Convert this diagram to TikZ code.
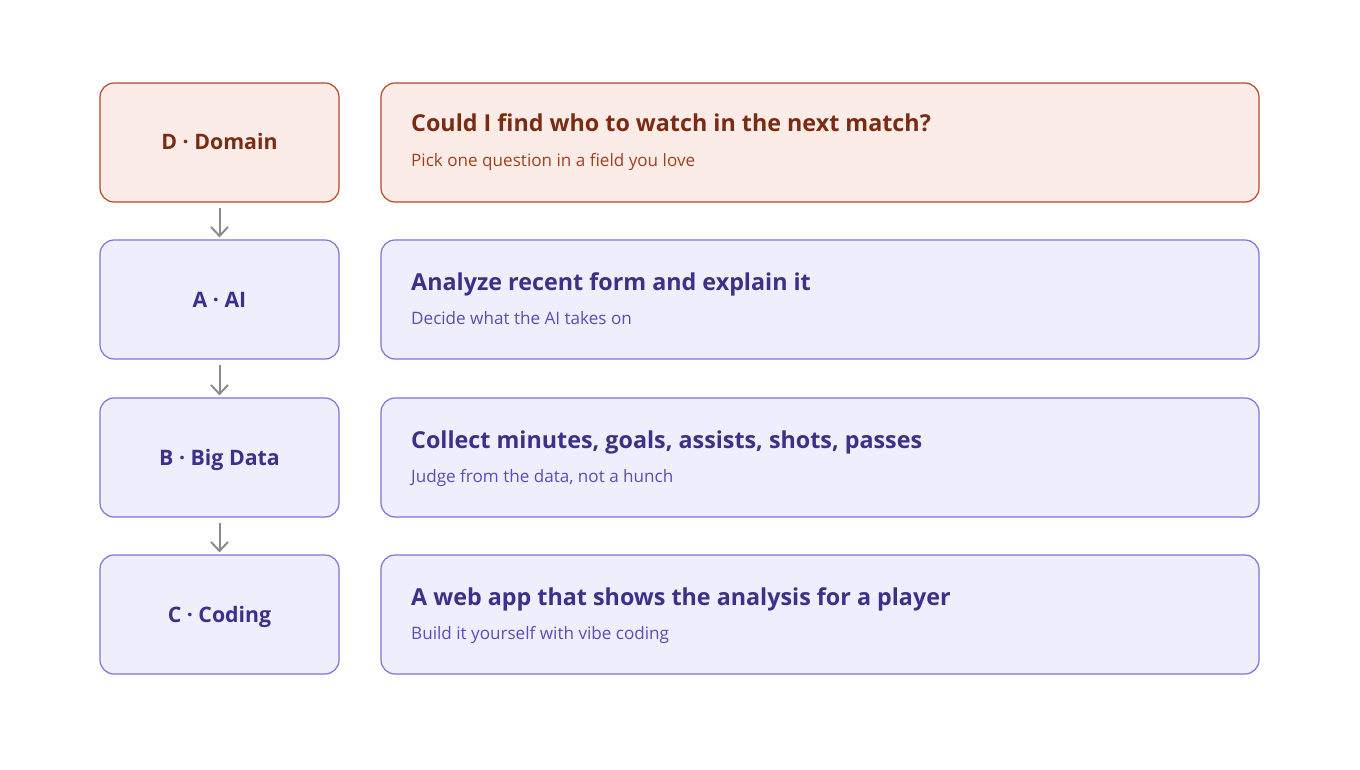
\documentclass[tikz,border=0pt]{standalone}
\usepackage{fontspec}
\setmainfont{Open Sans}
\usepackage{tikz}
\usetikzlibrary{arrows.meta}

\definecolor{domfill}{HTML}{FCECE7}
\definecolor{domline}{HTML}{B4472A}
\definecolor{domtext}{HTML}{7A2C13}
\definecolor{domsub}{HTML}{A2401E}
\definecolor{stepfill}{HTML}{EFEEFD}
\definecolor{stepline}{HTML}{7E72D4}
\definecolor{steptext}{HTML}{3C3088}
\definecolor{stepsub}{HTML}{5A4DB6}
\definecolor{arrowgray}{HTML}{8C8C8C}

\tikzset{
    letterbox/.style={draw, line width=1.2pt, rounded corners=14pt,
        minimum width=239pt, minimum height=119pt},
    textbox/.style={draw, line width=1.2pt, rounded corners=14pt,
        minimum width=878pt, minimum height=119pt},
    letterlabel/.style={anchor=base, font=\fontsize{21.3}{25}\selectfont\bfseries},
    titlelabel/.style={anchor=base west, inner sep=0pt, font=\fontsize{23.3}{28}\selectfont\bfseries},
    sublabel/.style={anchor=base west, inner sep=0pt, font=\fontsize{17.1}{21}\selectfont},
    flow/.style={draw=arrowgray, line width=2pt, -{Straight Barb[length=9pt, width=17pt, line width=2pt]}}
}

\begin{document}
\begin{tikzpicture}[x=1pt, y=-1pt]
    \useasboundingbox (0, 0) rectangle (1360, 770);

    % D - Domain
    \node[letterbox, fill=domfill, draw=domline] (d) at (219.5, 142.5) {};
    \node[letterlabel, text=domtext] (dl) at (219.5, 150) {D · Domain};
    \node[textbox, fill=domfill, draw=domline] (dq) at (820, 142.5) {};
    \node[titlelabel, text=domtext] (dqt) at (411, 132) {Could I find who to watch in the next match?};
    \node[sublabel, text=domsub] (dqs) at (411, 167) {Pick one question in a field you love};

    % A - AI
    \node[letterbox, fill=stepfill, draw=stepline] (a) at (219.5, 299.5) {};
    \node[letterlabel, text=steptext] (al) at (219.5, 307) {A · AI};
    \node[textbox, fill=stepfill, draw=stepline] (aq) at (820, 299.5) {};
    \node[titlelabel, text=steptext] (aqt) at (411, 290) {Analyze recent form and explain it};
    \node[sublabel, text=stepsub] (aqs) at (411, 324) {Decide what the AI takes on};

    % B - Big Data
    \node[letterbox, fill=stepfill, draw=stepline] (b) at (219.5, 457.5) {};
    \node[letterlabel, text=steptext] (bl) at (219.5, 465) {B · Big Data};
    \node[textbox, fill=stepfill, draw=stepline] (bq) at (820, 457.5) {};
    \node[titlelabel, text=steptext] (bqt) at (411, 448) {Collect minutes, goals, assists, shots, passes};
    \node[sublabel, text=stepsub] (bqs) at (411, 482) {Judge from the data, not a hunch};

    % C - Coding
    \node[letterbox, fill=stepfill, draw=stepline] (c) at (219.5, 614.5) {};
    \node[letterlabel, text=steptext] (cl) at (219.5, 622) {C · Coding};
    \node[textbox, fill=stepfill, draw=stepline] (cq) at (820, 614.5) {};
    \node[titlelabel, text=steptext] (cqt) at (411, 605) {A web app that shows the analysis for a player};
    \node[sublabel, text=stepsub] (cqs) at (411, 639) {Build it yourself with vibe coding};

    % arrows between letters
    \draw[flow] ([yshift=-5pt]d.south) -- ([yshift=2pt]a.north);
    \draw[flow] ([yshift=-5pt]a.south) -- ([yshift=2pt]b.north);
    \draw[flow] ([yshift=-5pt]b.south) -- ([yshift=2pt]c.north);
\end{tikzpicture}
\end{document}
